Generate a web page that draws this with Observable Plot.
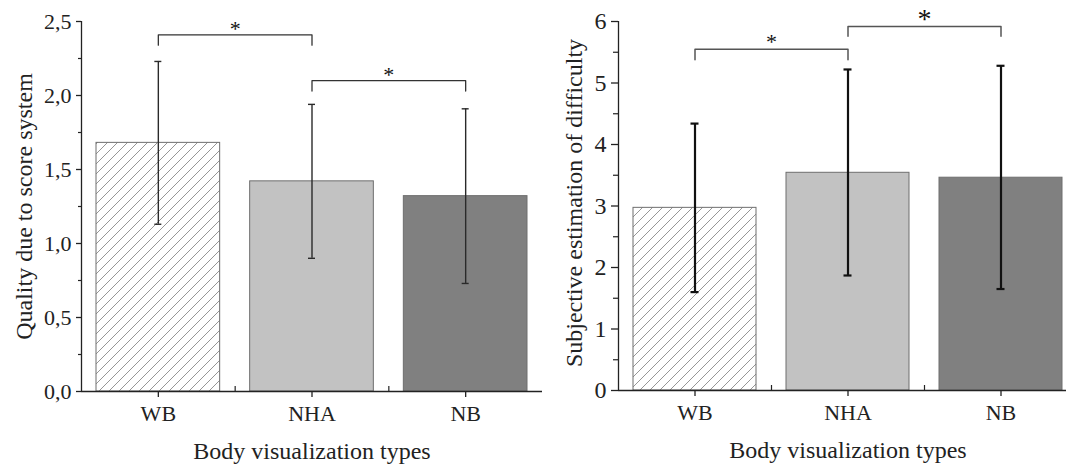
<!DOCTYPE html>
<html><head><meta charset="utf-8">
<script src="https://cdn.jsdelivr.net/npm/d3@7"></script>
<script src="https://cdn.jsdelivr.net/npm/@observablehq/plot@0.6"></script>
<style>
html,body{margin:0;padding:0;background:#fff;overflow:hidden;width:1066px;height:466px}
#wrap{position:relative;width:1066px;height:466px;overflow:hidden}
#left,#right{position:absolute;top:0}
#left{left:0}
#right{left:540px}
svg{max-width:none !important}
</style></head>
<body><div id="wrap"><div id="left"></div><div id="right"></div></div>
<script>
// ---- data ----
const categories = ["WB", "NHA", "NB"];

const qualityMean = [1.68, 1.42, 1.32];
const qualityLow  = [1.13, 0.90, 0.73];
const qualityHigh = [2.23, 1.94, 1.91];
const qualityTicks = [0, 0.5, 1, 1.5, 2, 2.5];
const qualityMinorTicks = [0.25, 0.75, 1.25, 1.75, 2.25];
const qualitySigPairs = [[0, 1], [1, 2]];
const qualitySigTop = [2.41, 2.10];
const qualitySigLeg = [2.34, 2.03];

const difficultyMean = [2.97, 3.54, 3.46];
const difficultyLow  = [1.60, 1.87, 1.65];
const difficultyHigh = [4.34, 5.22, 5.28];
const difficultyTicks = [0, 1, 2, 3, 4, 5, 6];
const difficultyMinorTicks = [0.5, 1.5, 2.5, 3.5, 4.5, 5.5];
const difficultySigPairs = [[0, 1], [1, 2]];
const difficultySigTop = [5.55, 5.92];
const difficultySigLeg = [5.38, 5.76];

const xTitle = "Body visualization types";
const qualityTitle = "Quality due to score system";
const difficultyTitle = "Subjective estimation of difficulty";

// ---- styles ----
const FONT = "'Liberation Serif', 'Times New Roman', Times, serif";

function hatchDefs(svg, id) {
  const ns = "http://www.w3.org/2000/svg";
  const defs = document.createElementNS(ns, "defs");
  defs.innerHTML = `<pattern id="${id}" patternUnits="userSpaceOnUse" width="10" height="10">
    <path d="M-2.5,2.5 l5,-5 M0,10 l10,-10 M7.5,12.5 l5,-5" stroke="#8a8a8a" stroke-width="0.9" fill="none"/>
  </pattern>`;
  svg.insertBefore(defs, svg.firstChild);
}

function panel(o) {
  const hatchId = o.id + "-hatch";
  const barFills = [`url(#${hatchId})`, "#c2c2c2", "#808080"];
  const rows = categories.map((c, i) => ({i, c, mean: o.mean[i], low: o.low[i], high: o.high[i], fill: barFills[i]}));
  const caps = rows.flatMap(d => [{i: d.i, y: d.low}, {i: d.i, y: d.high}]);
  const brackets = o.sigPairs.flatMap(([a, b], k) => [
    {k, x: a, y: o.sigLeg[k]}, {k, x: a, y: o.sigTop[k]},
    {k, x: b, y: o.sigTop[k]}, {k, x: b, y: o.sigLeg[k]}
  ]);
  const stars = o.sigPairs.map(([a, b], k) => ({x: (a + b) / 2, y: o.sigTop[k], size: o.starSizes[k], w: o.starWeights[k]}));

  const chart = Plot.plot({
    width: o.width,
    height: 466,
    marginLeft: o.marginLeft,
    marginRight: 0,
    marginTop: 21,
    marginBottom: o.marginBottom,
    style: {fontFamily: FONT, fontSize: "22px", color: "#222", background: "transparent", overflow: "visible"},
    x: {domain: [-0.5, 2.5], label: null},
    y: {domain: o.yDomain, label: null},
    color: {type: "identity"},
    marks: [
      Plot.rectY(rows, {x1: d => d.i - 0.5, x2: d => d.i + 0.5, y1: 0, y2: "mean", insetLeft: 15, insetRight: 15,
        fill: "fill", stroke: "#6e6e6e", strokeWidth: 1}),
      Plot.ruleX(rows, {x: "i", y1: "low", y2: "high", stroke: o.errColor, strokeWidth: o.errWidth}),
      Plot.ruleY(caps, {x1: "i", x2: "i", y: "y", insetLeft: -o.capHalf, insetRight: -o.capHalf, stroke: o.errColor, strokeWidth: o.errWidth}),
      Plot.line(brackets, {x: "x", y: "y", z: "k", stroke: o.brColor, strokeWidth: o.brWidth, curve: "linear"}),
      Plot.text(stars, {x: "x", y: "y", text: () => "*", dy: o.starDy, fontSize: "size", fontWeight: "w", fill: "#111"}),
      Plot.ruleX([-0.5], {stroke: "#222", strokeWidth: 1.3}),
      Plot.ruleY([0], {stroke: "#222", strokeWidth: 1.6}),
      Plot.ruleX([0.5, 1.5], {y1: 0, y2: 0, insetTop: -5, stroke: "#222", strokeWidth: 1.2}),
      Plot.axisX({ticks: [0, 1, 2], tickFormat: i => categories[i], tickSize: 6, tickPadding: 8, fontSize: 22, stroke: "#222", fill: "#222", strokeWidth: 1.3}),
      Plot.axisY({ticks: o.ticks, tickFormat: o.fmt, tickSize: o.majorSize, tickPadding: o.tickPad, fontSize: o.yTickFont, stroke: "#222", fill: "#222", strokeWidth: 1.3}),
      Plot.axisY({ticks: o.minor, tickFormat: () => "", tickSize: o.minorSize, stroke: "#222", strokeWidth: 1.2}),
      Plot.text([o.yTitle], {frameAnchor: "left", textAnchor: "middle", dx: o.yTitleDx, dy: o.yTitleDy, rotate: -90, fontSize: 24, fill: "#222", lineAnchor: "middle"}),
      Plot.text([xTitle], {frameAnchor: "bottom", dy: 60, fontSize: 24, fill: "#222", lineAnchor: "middle"})
    ]
  });
  hatchDefs(chart, hatchId);
  return chart;
}

document.getElementById("left").appendChild(panel({
  id: "q", width: 542, marginLeft: 81, marginBottom: 75, yDomain: [0, 2.5],
  ticks: qualityTicks, minor: qualityMinorTicks, fmt: d => d.toFixed(1).replace(".", ","),
  yTitle: qualityTitle, yTitleDx: -57, yTitleDy: 0,
  mean: qualityMean, low: qualityLow, high: qualityHigh,
  sigPairs: qualitySigPairs, sigTop: qualitySigTop, sigLeg: qualitySigLeg,
  majorSize: 5, minorSize: 3, tickPad: 5, yTickFont: 22,
  errColor: "#2a2a2a", errWidth: 1.4, capHalf: 3.5,
  brColor: "#333", brWidth: 1.3, starSizes: [22, 22], starWeights: ["normal", "normal"], starDy: -6
}));

document.getElementById("right").appendChild(panel({
  id: "d", width: 537, marginLeft: 78, marginBottom: 76, yDomain: [0, 6],
  ticks: difficultyTicks, minor: difficultyMinorTicks, fmt: d => String(d),
  yTitle: difficultyTitle, yTitleDx: -44, yTitleDy: -3,
  mean: difficultyMean, low: difficultyLow, high: difficultyHigh,
  sigPairs: difficultySigPairs, sigTop: difficultySigTop, sigLeg: difficultySigLeg,
  majorSize: 7, minorSize: 5, tickPad: 5, yTickFont: 24,
  errColor: "#111", errWidth: 2.2, capHalf: 4,
  brColor: "#555", brWidth: 1.5, starSizes: [22, 28], starWeights: ["normal", "bold"], starDy: -7
}));
</script>
</body></html>
